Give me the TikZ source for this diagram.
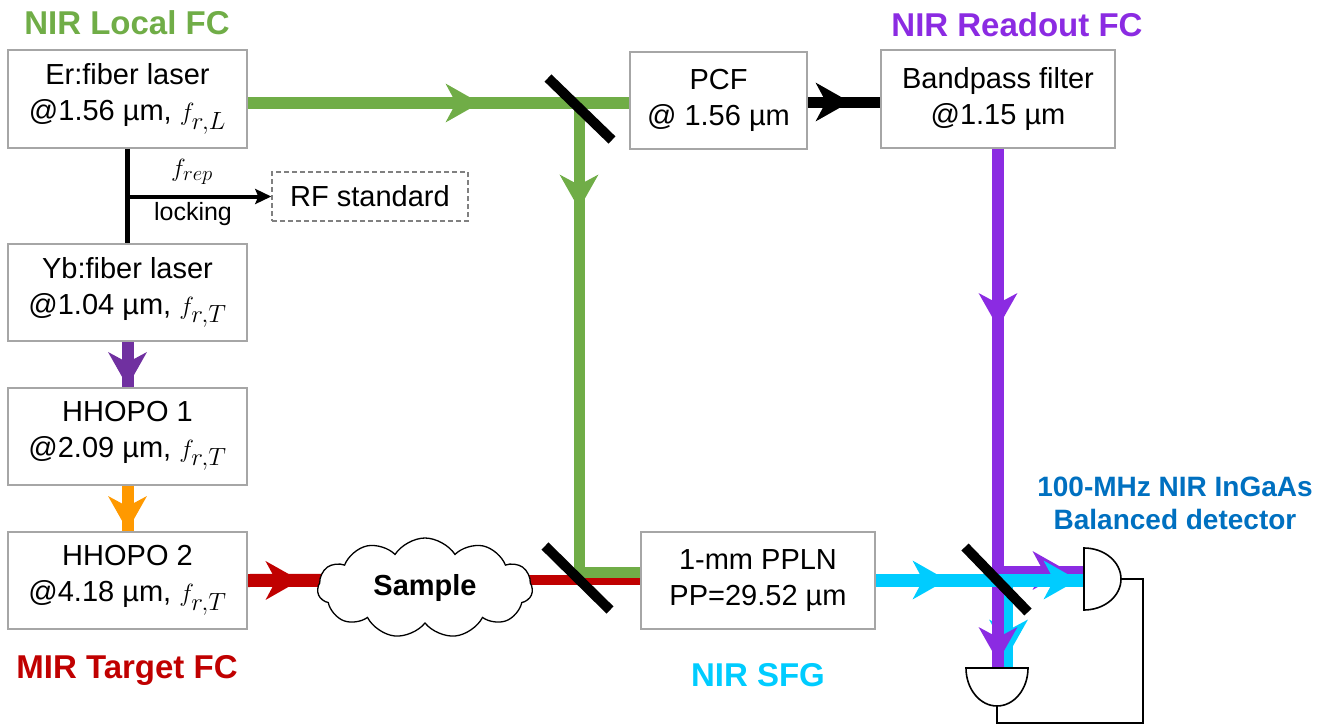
\documentclass[tikz,border=0pt]{standalone}
\usepackage{fontspec}
\setmainfont{Liberation Sans}
\usetikzlibrary{arrows.meta,decorations.markings,shapes.symbols,calc}
\definecolor{cgreen}{RGB}{112,173,71}
\definecolor{cpurple}{RGB}{139,43,226}
\definecolor{dpurple}{RGB}{112,48,160}
\definecolor{corange}{RGB}{255,153,0}
\definecolor{cred}{RGB}{192,0,0}
\definecolor{ccyan}{RGB}{0,204,255}
\definecolor{cblue}{RGB}{0,112,192}
\definecolor{boxgray}{RGB}{166,166,166}
\newcommand{\fmath}[1]{{\fontsize{33}{36}\selectfont$#1$}}
\pgfdeclarelayer{bg}
\pgfsetlayers{bg,main}
\begin{document}
\begin{tikzpicture}[x=1pt,y=-1pt,
  box/.style={draw=boxgray,line width=2pt,fill=white,minimum width=239pt,minimum height=97pt,
    align=center,inner sep=0pt,font=\fontsize{29}{36}\selectfont},
  title/.style={font=\bfseries\fontsize{33}{36}\selectfont,inner sep=0pt},
  bhead/.tip={Stealth[length=34pt,width=38pt,inset=10pt]},
  beamarrow/.style={postaction={decorate,decoration={markings,mark=at position #1 with {\arrow{bhead}}}}},
  mirror/.style={line width=10pt,black},
  detline/.style={line width=1.6pt,black},
]
\useasboundingbox (0,0) rectangle (1336,725);

% boxes
\node[box] (Er) at (127.5,99) {Er:fiber laser\\@1.56 µm, \fmath{f_{r,L}}};
\node[box] (Yb) at (127.5,292.5) {Yb:fiber laser\\@1.04 µm, \fmath{f_{r,T}}};
\node[box] (HH1) at (127.5,436) {HHOPO 1\\@2.09 µm, \fmath{f_{r,T}}};
\node[box] (HH2) at (127.5,580.5) {HHOPO 2\\@4.18 µm, \fmath{f_{r,T}}};
\node[box,minimum width=177pt] (PCF) at (718.5,100.5) {PCF\\@ 1.56 µm};
\node[box,minimum width=234pt] (BP) at (998,99) {Bandpass filter\\@1.15 µm};
\node[box,minimum width=234pt] (PPLN) at (758,580.5) {1-mm PPLN\\PP=29.52 µm};
\node[draw=gray,line width=1.5pt,dash pattern=on 5pt off 3pt,minimum width=196pt,minimum height=49pt,
  inner sep=0pt,font=\fontsize{29}{36}\selectfont] (RF) at (370,196.5) {RF standard};

% titles
\node[title,text=cgreen] (tLocal) at (127,23) {NIR Local FC};
\node[title,text=cpurple] (tRead) at (1017,25) {NIR Readout FC};
\node[title,text=cred] (tTarget) at (127,670) {MIR Target FC};
\node[title,text=ccyan] (tSFG) at (758,675) {NIR SFG};
\node[font=\bfseries\fontsize{28}{33}\selectfont,text=cblue,align=center,inner sep=0pt] (tDet) at (1175,503)
  {100-MHz NIR InGaAs\\Balanced detector};

% locking
\draw[line width=4.5pt] (Er.south) -- (Yb.north);
\draw[line width=4pt,-{Stealth[length=16pt,width=15pt,inset=3pt]}] (Er.south |- RF.west) -- (RF.west);
\node[font=\fontsize{31}{34}\selectfont,inner sep=0pt] (frep) at (192,172) {$f_{rep}$};
\node[font=\fontsize{25}{30}\selectfont,inner sep=0pt] (lock) at (193,214) {locking};

% key points
\coordinate (m1) at (579,103);
\coordinate (m3) at (577.5,578);
\coordinate (m2) at (996.5,579.5);
\coordinate (gcorner) at (579,572);
\coordinate (ph) at (998,570.5);
\coordinate (cv) at (1008.5,580);
\coordinate (det1) at (1084,579);
\coordinate (det2) at (997,668);
\coordinate (smpc) at (425,580);

% green
\draw[cgreen,line width=12pt,beamarrow=232pt] (m1 -| Er.east) -- (m1 -| PCF.west);
\draw[cgreen,line width=11pt,beamarrow=106pt] (m1) -- (gcorner) -- (gcorner -| PPLN.west);

% black
\draw[black,line width=11pt,beamarrow=42pt] (PCF.east |- 0,102) -- (BP.west |- 0,102);

% target chain
\draw[dpurple,line width=12pt,beamarrow=1] (Yb.south) -- (HH1.north);
\draw[corange,line width=12pt,beamarrow=45pt] (HH1.south) -- (HH2.north);

% sample and red
\node[cloud,draw,fill=white,line width=1.3pt,cloud puffs=11,cloud puff arc=115,aspect=2.1,
  minimum width=215pt,minimum height=100pt,inner sep=0pt,font=\bfseries\fontsize{29}{34}\selectfont] (smp) at (425,588) {Sample};
\begin{pgfonlayer}{bg}
\draw[cred,line width=13pt,beamarrow=52pt] (HH2.east) -- (smpc);
\draw[cred,line width=10pt] (smpc) -- (smpc -| PPLN.west);
\end{pgfonlayer}

% readout / detection
\draw[ccyan,line width=9pt,beamarrow=74pt] (cv) -- (cv |- det2);
\draw[cpurple,line width=12pt,beamarrow=179pt,beamarrow=513pt] (BP.south) -- (BP.south |- det2);
\draw[cpurple,line width=9pt,beamarrow=69pt] (ph) -- (ph -| det1);
\draw[ccyan,line width=13pt,beamarrow=71pt,beamarrow=202pt] (PPLN.east |- cv) -- (cv -| det1);

% mirrors
\draw[mirror] ($(m1)+(-31,-25)$) -- ($(m1)+(33,37)$);
\draw[mirror] ($(m3)+(-32.5,-32)$) -- ($(m3)+(32.5,32)$);
\draw[mirror] ($(m2)+(-31.5,-32.5)$) -- ($(m2)+(31.5,32.5)$);

% detectors
\draw[detline,fill=white] (det1) ++(0,-31) arc[start angle=90,end angle=-90,x radius=37pt,y radius=31pt] -- cycle;
\draw[detline,fill=white] (det2) ++(-31,0) arc[start angle=180,end angle=360,x radius=31pt,y radius=38pt] -- cycle;
\draw[line width=1.5pt] ($(det1)+(37,0)$) -| ($(det2)+(146,55)$) -| ($(det2)+(0,38)$);
\end{tikzpicture}
\end{document}
